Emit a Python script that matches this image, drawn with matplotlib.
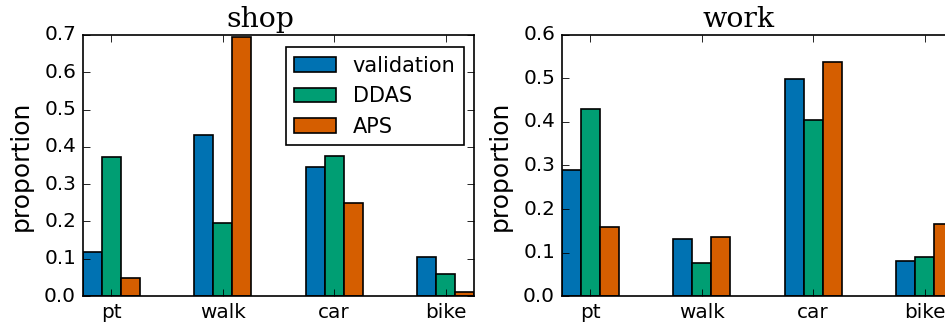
import numpy as np
import matplotlib
matplotlib.use('Agg')
import matplotlib.pyplot as plt

plt.style.use('classic')

# mode shares per trip purpose
modes = ['pt', 'walk', 'car', 'bike']
series = ['validation', 'DDAS', 'APS']
colors = ['#0072B2', '#009E73', '#D55E00']

shop_validation = [0.119, 0.431, 0.346, 0.105]
shop_ddas = [0.373, 0.195, 0.375, 0.059]
shop_aps = [0.047, 0.694, 0.250, 0.010]

work_validation = [0.290, 0.130, 0.498, 0.080]
work_ddas = [0.430, 0.076, 0.405, 0.090]
work_aps = [0.158, 0.136, 0.538, 0.166]

width = 0.17
ind = np.arange(len(modes))

fig = plt.figure(figsize=(7.875, 2.7), dpi=120, facecolor='white')
ax1 = fig.add_axes([0.0875, 0.0864, 0.4141, 0.8056])
ax2 = fig.add_axes([0.5944, 0.0864, 0.4141, 0.8056])


def draw(ax, values, title, legend=False):
    for k, (vals, name, c) in enumerate(zip(values, series, colors)):
        ax.bar(ind + (k - 1) * width, vals, width, align='center',
               color=c, edgecolor='black', label=name)
    ax.set_xticks(ind)
    ax.set_xticklabels(modes)
    ax.set_xlim(-1.5 * width, len(modes) - 1 + 1.5 * width)
    ax.set_ylabel('proportion', fontsize=15, labelpad=6.5)
    ax.set_title(title, family='DejaVu Serif', fontsize=17, x=0.453)
    if legend:
        ax.legend(loc='upper right', bbox_to_anchor=(1.0, 0.992), fontsize=12.5)


draw(ax1, [shop_validation, shop_ddas, shop_aps], 'shop', legend=True)
draw(ax2, [work_validation, work_ddas, work_aps], 'work')

fig.savefig('out.png', dpi=120, facecolor='white')
